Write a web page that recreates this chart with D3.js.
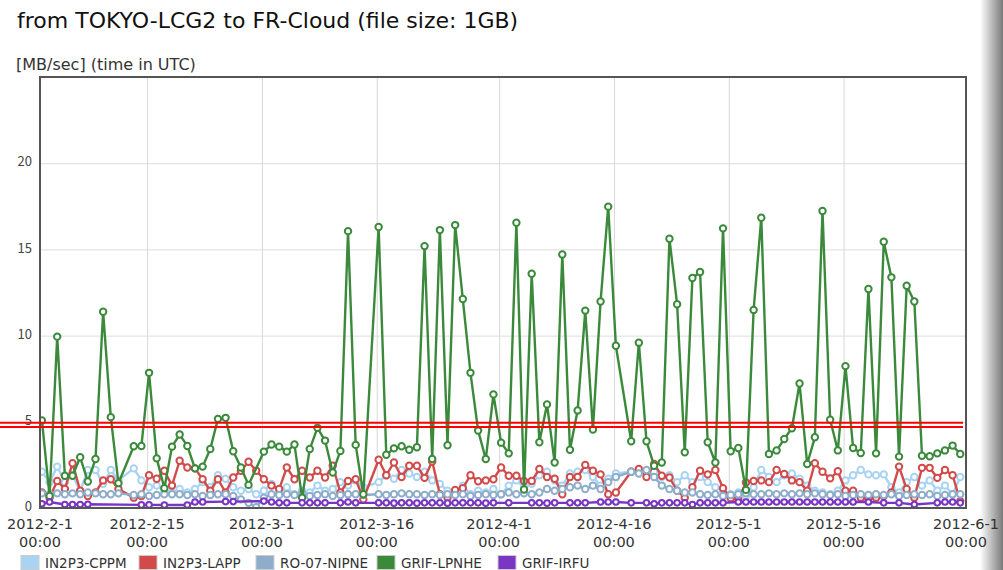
<!DOCTYPE html>
<html><head><meta charset="utf-8">
<script src="https://cdn.jsdelivr.net/npm/d3@7"></script>
<style>
html,body{margin:0;padding:0;background:#fff;}
svg{display:block;font-family:"DejaVu Sans","Noto Sans",sans-serif;}
</style></head>
<body><svg id="c" width="1003" height="570"></svg>
<script>
// ---- data (index 0 = 2012-02-01, one value per day, null = no measurement) ----
const seriesNames = ["IN2P3-CPPM","IN2P3-LAPP","RO-07-NIPNE","GRIF-LPNHE","GRIF-IRFU"];
const seriesColors = ["#a9d3f3","#d24a4a","#8dadcb","#3b8a3b","#7b35c4"];
const tickDates = ["2012-2-1","2012-2-15","2012-3-1","2012-3-16","2012-4-1","2012-4-16","2012-5-1","2012-5-16","2012-6-1"];
const yTicks = [0,5,10,15,20];
const thresholdLines = [4.95, 4.7];

const cppm = [2.1,1.5,2.4,1.5,1.9,1.0,2.2,2.2,1.4,2.2,1.6,null,2.3,1.6,1.2,1.3,1.0,0.9,1.1,0.9,
1.1,1.5,1.2,1.9,1.7,1.2,1.0,1.1,0.8,1.0,1.4,0.9,1.2,0.8,1.0,0.9,1.3,1.0,1.1,1.5,
1.3,1.6,1.2,null,1.5,1.9,1.7,2.2,2.0,1.8,2.1,1.6,1.4,1.0,0.9,1.3,0.8,1.0,0.9,1.1,
0.8,1.3,1.6,1.2,1.4,1.9,2.1,1.6,1.3,2.0,2.1,2.2,1.8,1.3,1.7,2.0,null,2.1,2.2,2.0,
2.1,1.8,1.9,1.5,1.9,1.5,1.8,1.5,1.2,1.0,0.8,0.9,0.7,1.2,2.2,1.8,1.5,1.9,2.0,1.7,
1.3,1.0,0.9,0.8,1.0,1.6,1.9,2.2,1.95,1.9,1.95,1.2,0.9,1.5,1.8,1.3,1.6,1.0,1.3,0.8,1.8];

const lapp = [0.9,0.6,1.57,1.1,2.6,1.0,0.7,0.9,1.6,1.67,1.1,null,0.6,0.7,1.9,1.7,2.16,1.3,2.74,2.35,
2.3,1.67,1.0,1.67,0.9,1.77,2.16,2.68,2.16,1.67,1.3,1.1,2.35,1.67,2.16,1.77,2.16,1.77,2.45,0.9,
1.57,1.67,0.5,null,2.8,1.9,2.64,1.8,2.45,2.45,1.75,2.7,0.8,0.6,1.05,1.15,1.9,1.55,1.6,1.67,
2.35,1.87,1.87,1.57,1.57,2.26,1.8,1.7,0.8,1.8,1.8,2.5,2.16,1.95,0.8,0.9,null,2.1,2.26,1.8,
2.55,1.87,1.77,1.0,0.6,1.2,2.16,1.95,2.2,1.15,0.57,0.5,1.48,1.57,1.6,1.5,2.2,1.97,1.6,1.5,
1.0,2.6,2.1,1.72,2.13,1.0,1.0,0.6,0.5,0.6,0.7,0.9,2.4,1.1,0.6,2.33,2.33,1.75,2.2,1.9,0.4];

const nipne = [0.85,0.8,0.85,0.8,0.85,0.8,0.9,0.85,0.8,0.8,0.85,null,0.75,0.8,0.7,0.75,0.8,0.8,0.8,0.75,
0.8,0.7,0.75,0.8,0.8,0.7,0.5,0.3,0.05,0.6,0.8,0.75,0.8,0.75,0.85,0.7,0.75,0.8,0.7,0.75,
0.8,0.8,0.75,null,0.8,0.75,0.8,0.85,0.8,0.8,0.75,0.8,0.75,0.8,0.75,0.8,0.7,0.75,0.8,0.75,
0.8,0.9,0.8,0.85,0.8,0.9,1.1,1.0,1.1,1.2,1.3,1.1,1.3,1.1,1.5,1.8,null,2.1,2.0,2.2,
1.8,1.3,1.1,1.0,0.9,0.9,0.8,0.75,0.8,0.7,0.75,0.8,0.85,0.8,0.8,0.85,0.8,0.85,0.8,0.85,
0.8,0.85,0.8,0.75,0.8,0.7,0.75,0.8,0.75,0.8,0.75,0.8,0.7,0.75,0.8,0.75,0.8,0.7,0.75,0.8,0.8];

const lpnhe = [5.08,0.7,9.94,1.87,1.87,2.94,1.54,2.84,11.38,5.27,1.44,null,3.58,3.6,7.84,2.88,1.15,3.56,4.26,3.6,
2.3,2.4,3.42,5.17,5.23,3.29,2.35,1.34,null,3.27,3.68,3.56,3.27,3.68,0.6,3.42,4.65,3.91,2.06,3.31,
16.06,3.66,0.8,null,16.3,3.09,3.46,3.58,3.38,3.52,15.19,2.84,16.12,3.64,16.41,12.12,7.84,4.49,2.84,6.59,
3.79,3.17,16.55,1.07,13.59,3.81,6.01,2.64,14.7,3.38,5.66,11.45,4.55,11.98,17.48,9.41,null,3.87,9.59,3.87,
2.45,2.64,15.62,11.82,3.23,13.34,13.69,3.81,2.64,16.22,3.29,3.48,1.05,11.49,16.84,3.13,3.34,4.0,4.63,7.22,
2.55,4.1,17.23,5.12,3.34,8.23,3.48,3.19,12.7,3.17,15.44,13.38,2.98,12.89,11.98,3.03,3.0,3.17,3.34,3.62,3.13];

const irfu = [0.25,0.35,null,0.2,0.2,0.2,0.22,null,null,null,null,null,null,0.18,0.18,null,0.17,null,null,0.17,
0.35,0.35,null,null,0.37,0.37,null,null,null,0.4,0.35,0.3,0.3,null,0.3,0.3,0.3,0.3,null,0.3,
0.35,0.3,null,null,0.3,0.3,0.28,0.3,0.3,0.28,0.3,0.3,0.3,0.28,0.3,0.3,0.3,0.3,0.28,0.3,
null,0.3,null,null,0.3,0.3,0.28,0.3,null,0.3,0.3,0.3,null,0.35,0.35,0.35,null,0.3,null,0.3,
0.25,0.3,0.3,0.3,0.3,0.2,0.3,0.3,0.3,0.3,null,0.35,0.35,0.35,0.35,0.35,0.35,0.35,0.35,0.35,
0.35,0.35,0.35,0.35,0.35,0.35,0.35,null,0.35,null,0.3,null,0.3,null,0.2,null,null,0.3,0.35,0.35,0.3];

const seriesValues = [cppm, lapp, nipne, lpnhe, irfu];

// ---- layout ----
const svg = d3.select("#c");
const L = 40, R = 966, T = 77, B = 508;
const parseTick = s => { const [yy,mm,dd] = s.split("-").map(Number); return new Date(Date.UTC(yy,mm-1,dd)); };
const x = d3.scaleUtc().domain([parseTick("2012-2-1"), parseTick("2012-6-1")]).range([L, R]);
const y = d3.scaleLinear().domain([0, 25]).range([B, T]);
const startMs = Date.UTC(2012,1,1);
const dateAt = i => new Date(startMs + i*864e5 + 6*3600e3);

// right edge shading
const defs = svg.append("defs");
const g1 = defs.append("linearGradient").attr("id","edge").attr("x1","0").attr("x2","1");
g1.append("stop").attr("offset","0").attr("stop-color","#fff");
g1.append("stop").attr("offset","1").attr("stop-color","#7a7a7a");
svg.append("rect").attr("x",980).attr("y",0).attr("width",23).attr("height",570).attr("fill","url(#edge)");
defs.append("clipPath").attr("id","clip").append("rect").attr("x",L).attr("y",T).attr("width",R-L).attr("height",B-T);

// title
svg.append("text").attr("x",17).attr("y",28).attr("font-size",22).attr("fill","#111")
  .text("from TOKYO-LCG2 to FR-Cloud (file size: 1GB)");
svg.append("text").attr("x",16).attr("y",70).attr("font-size",16).attr("fill","#333")
  .text("[MB/sec] (time in UTC)");

// grid
const gx = svg.append("g").attr("transform",`translate(0,${B})`)
  .call(d3.axisBottom(x).tickValues(tickDates.map(parseTick)).tickSize(-(B-T)).tickFormat(""));
gx.select(".domain").remove();
gx.selectAll("line").attr("stroke","#d8d8d8");
const gy = svg.append("g").attr("transform",`translate(${L},0)`)
  .call(d3.axisLeft(y).tickValues(yTicks).tickSize(-(R-L)).tickPadding(8));
gy.select(".domain").remove();
gy.selectAll("line").attr("stroke","#dcdcdc");
gy.selectAll("text").attr("font-size",13).attr("fill","#444")
  .attr("font-family","Noto Sans CJK JP").attr("dy","0.2em");

// x labels
tickDates.forEach(s => {
  const t = svg.append("text").attr("text-anchor","middle").attr("font-size",14.5).attr("fill","#333")
    .attr("x", x(parseTick(s)));
  t.append("tspan").attr("x", x(parseTick(s))).attr("y",529).text(s);
  t.append("tspan").attr("x", x(parseTick(s))).attr("y",547).text("00:00");
});

// series
const plot = svg.append("g").attr("clip-path","url(#clip)");
const line = d3.line().x(p => x(p.d)).y(p => y(p.v));
seriesValues.forEach((vals, k) => {
  const pts = vals.map((v,i) => ({d: dateAt(i), v})).filter(p => p.v !== null);
  const col = seriesColors[k];
  plot.append("path").datum(pts).attr("d", line).attr("fill","none")
    .attr("stroke", col).attr("stroke-width", 2.4).attr("stroke-linejoin","round");
  plot.selectAll(null).data(pts).enter().append("circle")
    .attr("cx", p => x(p.d)).attr("cy", p => y(p.v))
    .attr("r", k === 4 ? 2.8 : 3.2).attr("fill","#fff")
    .attr("stroke", col).attr("stroke-width", 2);
});

// border
svg.append("rect").attr("x",L).attr("y",T).attr("width",R-L).attr("height",B-T)
  .attr("fill","none").attr("stroke","#555").attr("stroke-width",2);

// threshold double line
thresholdLines.forEach(v => {
  svg.append("line").attr("x1",0).attr("x2",963).attr("y1",y(v)).attr("y2",y(v))
    .attr("stroke","#ff0000").attr("stroke-width",2);
});

// legend
const legX = [21,139,256,377,498];
seriesNames.forEach((n,k) => {
  svg.append("rect").attr("x",legX[k]).attr("y",555.5).attr("width",18).attr("height",14)
    .attr("fill", seriesColors[k]).attr("stroke","#ccc").attr("stroke-width",1);
  svg.append("text").attr("x",legX[k]+24).attr("y",567.5).attr("font-size",13.5).attr("fill","#333").text(n);
});
</script></body></html>
